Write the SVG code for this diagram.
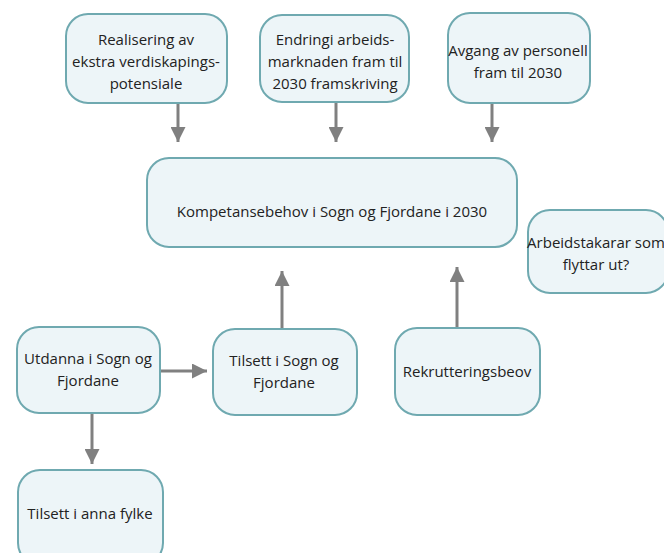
<svg xmlns="http://www.w3.org/2000/svg" width="664" height="553" viewBox="0 0 664 553">
<defs>
<marker id="ah" viewBox="0 0 10 10" refX="10" refY="5" markerWidth="5.5" markerHeight="5" markerUnits="strokeWidth" orient="auto">
<path d="M0,0 L10,5 L0,10 z" fill="#808080"/>
</marker>
<style>
.n{fill:#edf5f8;stroke:#6fa9b0;stroke-width:2}
.t{font-family:"Open Sans","Noto Sans",sans-serif;font-size:15px;fill:#222;text-anchor:middle}
.c{stroke:#808080;stroke-width:3;fill:none;marker-end:url(#ah)}
</style>
</defs>
<rect width="664" height="553" fill="#fff"/>
<g id="connectors">
<line class="c" x1="178" y1="103" x2="178" y2="142"/>
<line class="c" x1="336" y1="103" x2="336" y2="142"/>
<line class="c" x1="492" y1="103" x2="492" y2="142"/>
<line class="c" x1="282" y1="329" x2="282" y2="271"/>
<line class="c" x1="457" y1="328" x2="457" y2="267"/>
<line class="c" x1="160" y1="371" x2="207" y2="371"/>
<line class="c" x1="92" y1="413" x2="92" y2="464"/>
</g>
<g id="n1"><rect class="n" x="66" y="14" width="161" height="89" rx="22"/>
<text class="t" x="146" y="45">Realisering av</text><text class="t" x="146" y="67">ekstra verdiskapings-</text><text class="t" x="146" y="89">potensiale</text></g>
<g id="n2"><rect class="n" x="260" y="15" width="149" height="87" rx="22"/>
<text class="t" x="335" y="45">Endringi arbeids-</text><text class="t" x="335" y="67">marknaden fram til</text><text class="t" x="335" y="89">2030 framskriving</text></g>
<g id="n3"><rect class="n" x="448" y="13" width="142" height="90" rx="22"/>
<text class="t" x="518" y="56">Avgang av personell</text><text class="t" x="518" y="78">fram til 2030</text></g>
<g id="n4"><rect class="n" x="147" y="158" width="370" height="89" rx="22"/>
<text class="t" x="332" y="217">Kompetansebehov i Sogn og Fjordane i 2030</text></g>
<g id="n5"><rect class="n" x="528" y="210" width="140" height="83" rx="22"/>
<text class="t" x="596" y="248">Arbeidstakarar som</text><text class="t" x="596" y="270">flyttar ut?</text></g>
<g id="n6"><rect class="n" x="17" y="327" width="143" height="86" rx="22"/>
<text class="t" x="88" y="364">Utdanna i Sogn og</text><text class="t" x="88" y="386">Fjordane</text></g>
<g id="n7"><rect class="n" x="213" y="329" width="144" height="86" rx="22"/>
<text class="t" x="284" y="366">Tilsett i Sogn og</text><text class="t" x="284" y="388">Fjordane</text></g>
<g id="n8"><rect class="n" x="395" y="328" width="145" height="87" rx="22"/>
<text class="t" x="467" y="377">Rekrutteringsbeov</text></g>
<g id="n9"><rect class="n" x="18" y="470" width="145" height="95" rx="22"/>
<text class="t" x="90" y="519">Tilsett i anna fylke</text></g>
</svg>
